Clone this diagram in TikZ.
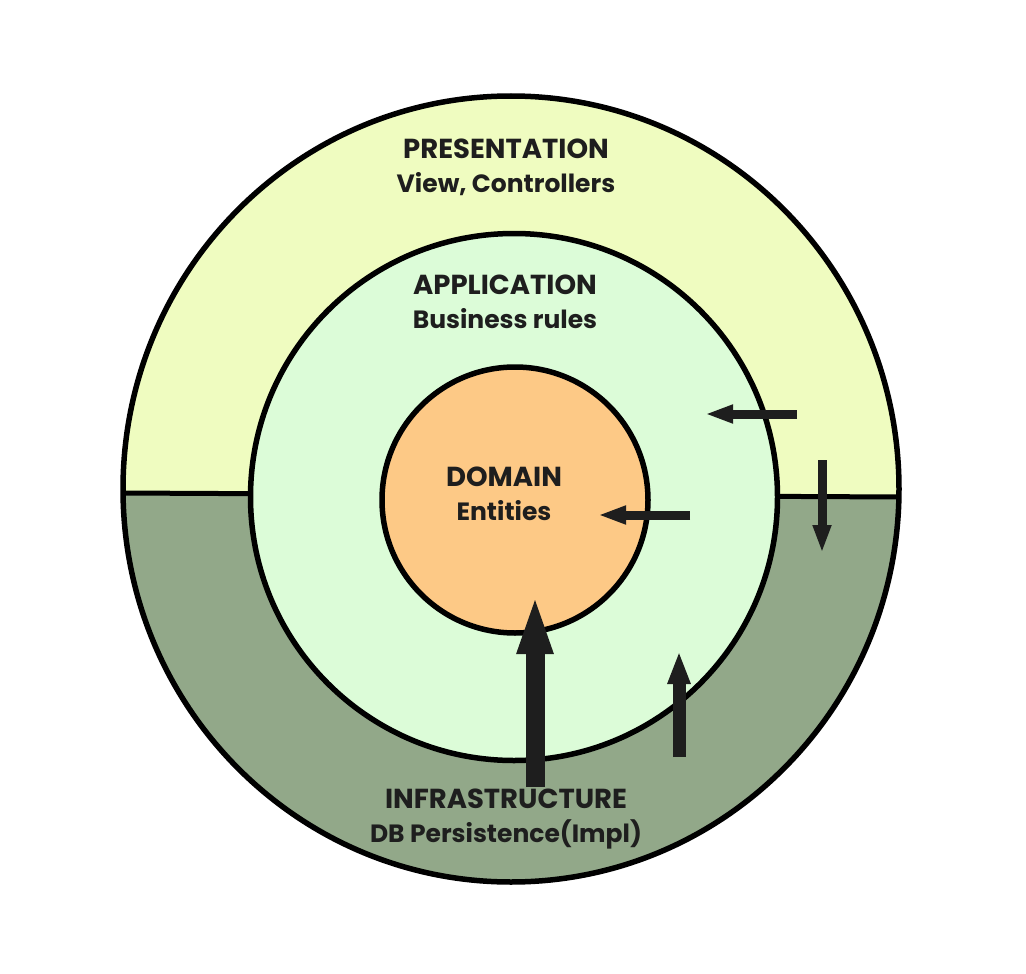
\documentclass[tikz,border=0pt]{standalone}
\usepackage{fontspec}
\setmainfont{Poppins}
\usetikzlibrary{arrows.meta,shapes.geometric}
\definecolor{onpresent}{HTML}{EFFCC0}
\definecolor{oninfra}{HTML}{92A889}
\definecolor{onapp}{HTML}{DCFCD8}
\definecolor{ondomain}{HTML}{FDC986}
\definecolor{onink}{HTML}{1E1E1E}
\newcommand{\ringsub}{\fontsize{25}{34}\selectfont}
\tikzset{
  ring/.style={draw=black,line width=5.5pt,inner sep=0pt,outer sep=0pt},
  ringlabel/.style={font=\bfseries\fontsize{27.5}{34}\selectfont,text=onink,align=center},
  dep/.style={-{Triangle[length=28pt,width=17pt]},line width=9pt,draw=onink},
  depwide/.style={-{Triangle[length=33pt,width=21pt]},line width=13pt,draw=onink},
  depmain/.style={-{Triangle[length=61pt,width=32pt]},line width=19pt,draw=onink}
}

\begin{document}
\begin{tikzpicture}[x=1pt,y=-1pt]
    \useasboundingbox[fill=white] (0,0) rectangle (1026,974);
    % outer ring: two halves
    \coordinate (splitW) at (122,493);
    \coordinate (splitE) at (899,497);
    \begin{scope}
      \clip (511,489) ellipse [x radius=388pt,y radius=393pt];
      \fill[onpresent] (100,80) -- (920,80) -- (920,497) -- (100,493) -- cycle;
      \fill[oninfra] (100,493) -- (920,497) -- (920,900) -- (100,900) -- cycle;
    \end{scope}
    \draw[line width=5pt] (splitW) -- (splitE);
    \node[ring,ellipse,minimum width=776pt,minimum height=786pt] (outer) at (511,489) {};
    \node[ring,circle,fill=onapp,minimum size=527pt] (app) at (514,497) {};
    \node[ring,circle,fill=ondomain,minimum size=266pt] (dom) at (515,500) {};
    % labels
    \node[ringlabel] (presT) at (506,167) {PRESENTATION\\\ringsub View, Controllers};
    \node[ringlabel] (appT) at (505,302) {APPLICATION\\\ringsub Business rules};
    \node[ringlabel] (domT) at (504,494) {DOMAIN\\\ringsub Entities};
    \node[ringlabel] (infraT) at (506,819) {INFRASTRUCTURE\\\ringsub DB Persistence(Impl)};
    % dependency arrows
    \coordinate (presA) at (797,414);
    \coordinate (appA) at (705,414);
    \coordinate (appB) at (690,515);
    \coordinate (domB) at (598,515);
    \coordinate (presC) at (822,460);
    \coordinate (infraC) at (822,553);
    \coordinate (infraD) at (535,787);
    \coordinate (domD) at (535,593);
    \coordinate (infraE) at (679,757);
    \coordinate (appE) at (679,651);
    \draw[dep] (presA) -- (appA);
    \draw[dep] (appB) -- (domB);
    \draw[dep] (presC) -- (infraC);
    \draw[depmain] (infraD) -- (domD);
    \draw[depwide] (infraE) -- (appE);
  \end{tikzpicture}
\end{document}
